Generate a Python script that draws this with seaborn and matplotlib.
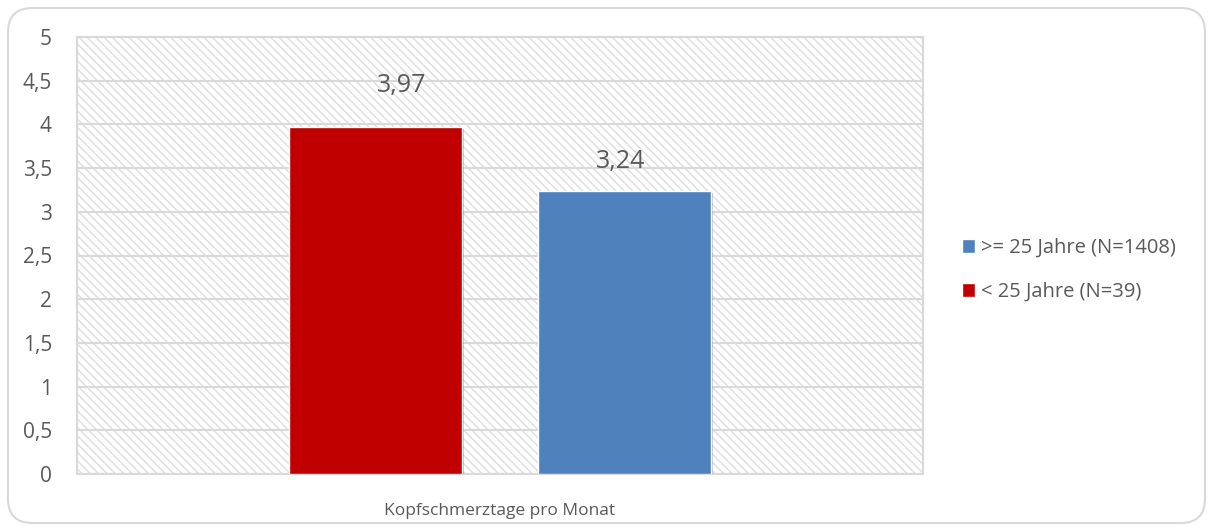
import pandas as pd
import numpy as np
import matplotlib
matplotlib.use("Agg")
import matplotlib.pyplot as plt
import seaborn as sns
from matplotlib.patches import FancyBboxPatch, Rectangle, Patch
from matplotlib.ticker import FuncFormatter
import matplotlib.patheffects as pe

# Data
category = ["Kopfschmerztage pro Monat"]
groups = ["< 25 Jahre (N=39)", ">= 25 Jahre (N=1408)"]
values = [3.97, 3.24]
colors = ["#C00000", "#4F81BD"]
yticks = [0, 0.5, 1, 1.5, 2, 2.5, 3, 3.5, 4, 4.5, 5]

df = pd.DataFrame({
    "Kategorie": category * len(groups),
    "Gruppe": groups,
    "Wert": values,
})

sns.set_theme(style="white")
plt.rcParams["font.family"] = ["Open Sans", "DejaVu Sans"]
plt.rcParams["hatch.color"] = "#e0e0e0"
plt.rcParams["hatch.linewidth"] = 1.1

text_col = "#595959"
grid_col = "#d9d9d9"

fig = plt.figure(figsize=(12.13, 5.31), dpi=100)
ax = fig.add_axes([77 / 1213, 1 - 474 / 531, (923 - 77) / 1213, (474 - 37) / 531])

# rounded chart border
border = FancyBboxPatch((8 / 1213, 8 / 531), 1197 / 1213, 515 / 531,
                        boxstyle="round,pad=0,rounding_size=0.02",
                        transform=fig.transFigure, facecolor="none",
                        edgecolor=grid_col, linewidth=1.5, mutation_aspect=1213 / 531)
fig.patches.append(border)

# hatched plot area background
ax.add_patch(Rectangle((0, 0), 1, 1, transform=ax.transAxes, facecolor="white",
                       edgecolor="#e0e0e0", linewidth=0, hatch="\\\\\\\\", zorder=0))

sns.barplot(data=df, x="Kategorie", y="Wert", hue="Gruppe", hue_order=groups,
            palette=colors, width=0.587, gap=0.304, saturation=1, ax=ax,
            legend=False, zorder=3)

# Excel places the labels slightly off-centre
label_off = [(26, 29), (-4, 17)]
for cont, (dx, dy) in zip(ax.containers, label_off):
    for bar, v in zip(cont, cont.datavalues):
        bar.set_path_effects([pe.SimplePatchShadow(offset=(1.5, -1.5), alpha=0.25),
                              pe.Normal()])
        ax.annotate(f"{v:.2f}".replace(".", ","),
                    (bar.get_x() + bar.get_width() / 2, bar.get_height()),
                    xytext=(dx, dy), textcoords="offset pixels",
                    ha="center", va="bottom", fontsize=18, color=text_col)

ax.set_ylim(0, 5)
ax.set_xlim(-0.5, 0.5)
ax.set_yticks(yticks)
ax.yaxis.set_major_formatter(FuncFormatter(lambda v, p: f"{v:g}".replace(".", ",")))
ax.grid(axis="y", color=grid_col, linewidth=1.5, zorder=1)
ax.set_axisbelow(True)
for s in ax.spines.values():
    s.set_color(grid_col)
    s.set_linewidth(1.5)
ax.set_xticks([-0.5, 0.5], minor=True)
ax.tick_params(axis="x", which="minor", length=6, width=1.5, color=grid_col)
ax.tick_params(axis="y", length=0, pad=18, labelsize=15, labelcolor=text_col)
ax.tick_params(axis="x", which="major", length=0, pad=21, labelsize=12.5, labelcolor=text_col)
ax.set_xlabel("")
ax.set_ylabel("")

# legend (blue first as in reference)
handles = [Patch(facecolor=colors[1]), Patch(facecolor=colors[0])]
leg = fig.legend(handles, [groups[1], groups[0]], loc="center left",
                 bbox_to_anchor=(944 / 1213, 1 - 270 / 531), frameon=False,
                 fontsize=14.5, labelcolor=text_col, handlelength=0.65, handleheight=0.65,
                 handletextpad=0.3, labelspacing=1.2)

fig.savefig("out.png", dpi=100)
